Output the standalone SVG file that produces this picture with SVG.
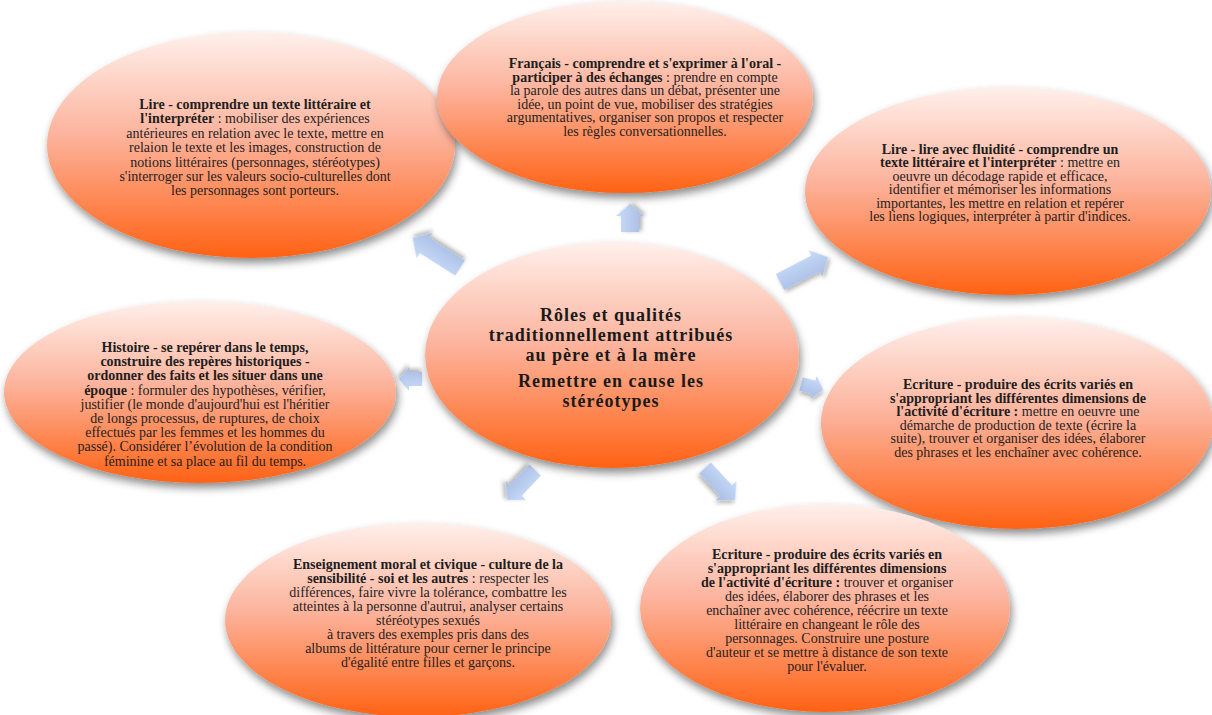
<svg xmlns="http://www.w3.org/2000/svg" width="1212" height="715" viewBox="0 0 1212 715">
<defs>
<linearGradient id="gOr" x1="0" y1="0" x2="0" y2="1">
<stop offset="0" stop-color="#fff0eb"/>
<stop offset="0.45" stop-color="#fcb49e"/>
<stop offset="1" stop-color="#ff6214"/>
</linearGradient>
<linearGradient id="gBl" x1="0" y1="0" x2="0" y2="1">
<stop offset="0" stop-color="#cadcfa"/>
<stop offset="1" stop-color="#a7bce4"/>
</linearGradient>
<filter id="sh" x="-20%" y="-20%" width="140%" height="150%">
<feDropShadow dx="2" dy="5" stdDeviation="4" flood-color="#000" flood-opacity="0.45"/>
</filter>
<filter id="sha" x="-40%" y="-40%" width="180%" height="180%">
<feDropShadow dx="1" dy="3" stdDeviation="2" flood-color="#000" flood-opacity="0.3"/>
</filter>
</defs>
<style>
.el{fill:url(#gOr);filter:url(#sh)}
.t{font-family:"Liberation Serif","Times New Roman",serif;font-size:14px;fill:#1e1e1e;text-anchor:middle}
.b{font-weight:bold}
.c{font-family:"Liberation Serif","Times New Roman",serif;font-size:18px;letter-spacing:1px;font-weight:bold;fill:#1a1a1a;text-anchor:middle}
.ar{fill:url(#gBl);filter:url(#sha)}
</style>
<rect width="1212" height="715" fill="#fff"/>

<g id="connectors">
<polygon class="ar" transform="translate(630,232) rotate(-90)" points="0,-9 16,-9 16,-14 28,0 16,14 16,9 0,9"/>
<polygon class="ar" transform="translate(460,268) rotate(-147.5)" points="0,-9 42,-9 42,-15 56,0 42,15 42,9 0,9"/>
<polygon class="ar" transform="translate(780,282) rotate(-27.5)" points="0,-9 40,-9 40,-15 54,0 40,15 40,9 0,9"/>
<polygon class="ar" transform="translate(422,379) rotate(180)" points="0,-7 13,-7 13,-12 23,0 13,12 13,7 0,7"/>
<polygon class="ar" transform="translate(801,384) rotate(15)" points="0,-7 13,-7 13,-12 23,0 13,12 13,7 0,7"/>
<polygon class="ar" transform="translate(535,470) rotate(133)" points="0,-8 28,-8 28,-14 41,0 28,14 28,8 0,8"/>
<polygon class="ar" transform="translate(705,468) rotate(47)" points="0,-8 31,-8 31,-14 44,0 31,14 31,8 0,8"/>
</g>

<g id="node-lire1">
<ellipse class="el" cx="251" cy="145" rx="204" ry="113"/>
<text class="t" x="255" y="109"><tspan class="b">Lire - comprendre un texte littéraire et</tspan></text>
<text class="t" x="255" y="123.4"><tspan class="b">l'interpréter</tspan>  :  mobiliser des expériences</text>
<text class="t" x="255" y="137.8">antérieures en relation avec le texte, mettre en</text>
<text class="t" x="255" y="152.2">relaion le texte et les images, construction de</text>
<text class="t" x="255" y="166.6">notions littéraires (personnages, stéréotypes)</text>
<text class="t" x="255" y="181">s'interroger sur les valeurs socio-culturelles dont</text>
<text class="t" x="255" y="195.4">les personnages sont porteurs.</text>
</g>

<g id="node-francais">
<ellipse class="el" cx="625" cy="97" rx="188" ry="96"/>
<text class="t" x="645" y="68"><tspan class="b">Français - comprendre et s'exprimer à l'oral -</tspan></text>
<text class="t" x="645" y="81.6"><tspan class="b">participer à des échanges</tspan> :  prendre en compte</text>
<text class="t" x="645" y="95.2">la parole des autres dans un débat, présenter une</text>
<text class="t" x="645" y="108.8">idée, un point de vue, mobiliser des stratégies</text>
<text class="t" x="645" y="122.4">argumentatives, organiser son propos et respecter</text>
<text class="t" x="645" y="136">les règles conversationnelles.</text>
</g>

<g id="node-lire2">
<ellipse class="el" cx="1008" cy="191" rx="203" ry="104"/>
<text class="t" x="1000" y="154"><tspan class="b">Lire - lire avec fluidité - comprendre un</tspan></text>
<text class="t" x="1000" y="167.4"><tspan class="b">texte littéraire et l'interpréter</tspan> : mettre en</text>
<text class="t" x="1000" y="180.8">oeuvre un décodage rapide et efficace,</text>
<text class="t" x="1000" y="194.2">identifier et mémoriser les informations</text>
<text class="t" x="1000" y="207.6">importantes, les mettre en relation et repérer</text>
<text class="t" x="1000" y="221">les liens logiques, interpréter à partir d'indices.</text>
</g>

<g id="node-histoire">
<ellipse class="el" cx="200" cy="392" rx="196" ry="91"/>
<text class="t" x="205" y="352"><tspan class="b">Histoire - se repérer dans le temps,</tspan></text>
<text class="t" x="205" y="366.2"><tspan class="b">construire des repères historiques -</tspan></text>
<text class="t" x="205" y="380.4"><tspan class="b">ordonner des faits et les situer dans une</tspan></text>
<text class="t" x="205" y="394.6"><tspan class="b">époque</tspan> : formuler des hypothèses, vérifier,</text>
<text class="t" x="205" y="408.8">justifier (le monde d'aujourd'hui est l'héritier</text>
<text class="t" x="205" y="423">de longs processus, de ruptures, de choix</text>
<text class="t" x="205" y="437.2">effectués par les femmes et les hommes du</text>
<text class="t" x="205" y="451.4">passé). Considérer l’évolution de la condition</text>
<text class="t" x="205" y="465.6">féminine et sa place au fil du temps.</text>
</g>

<g id="node-ecriture1">
<ellipse class="el" cx="1017" cy="423" rx="196" ry="106"/>
<text class="t" x="1018" y="389"><tspan class="b">Ecriture - produire des écrits variés en</tspan></text>
<text class="t" x="1018" y="402.6"><tspan class="b">s'appropriant les différentes dimensions de</tspan></text>
<text class="t" x="1018" y="416.2"><tspan class="b">l'activité d'écriture :</tspan> mettre en oeuvre une</text>
<text class="t" x="1018" y="429.8">démarche de production de texte  (écrire la</text>
<text class="t" x="1018" y="443.4">suite), trouver et organiser des idées, élaborer</text>
<text class="t" x="1018" y="457">des phrases et les enchaîner avec cohérence.</text>
</g>

<g id="node-emc">
<ellipse class="el" cx="418" cy="620" rx="193" ry="97"/>
<text class="t" x="428" y="569"><tspan class="b">Enseignement moral et civique - culture de la</tspan></text>
<text class="t" x="428" y="583"><tspan class="b">sensibilité - soi et les autres</tspan> : respecter les</text>
<text class="t" x="428" y="597">différences, faire vivre la tolérance, combattre les</text>
<text class="t" x="428" y="611">atteintes à la personne d'autrui, analyser certains</text>
<text class="t" x="428" y="625">stéréotypes sexués</text>
<text class="t" x="428" y="639">à travers des exemples pris dans des</text>
<text class="t" x="428" y="653">albums de littérature pour cerner le principe</text>
<text class="t" x="428" y="667">d'égalité entre filles et garçons.</text>
</g>

<g id="node-ecriture2">
<ellipse class="el" cx="825" cy="608" rx="185" ry="104"/>
<text class="t" x="827" y="559"><tspan class="b">Ecriture - produire des écrits variés en</tspan></text>
<text class="t" x="827" y="573"><tspan class="b">s'appropriant les différentes dimensions</tspan></text>
<text class="t" x="827" y="587"><tspan class="b">de l'activité d'écriture :</tspan> trouver et organiser</text>
<text class="t" x="827" y="601">des idées, élaborer des phrases et les</text>
<text class="t" x="827" y="615">enchaîner avec cohérence, réécrire un texte</text>
<text class="t" x="827" y="629">littéraire en changeant le rôle des</text>
<text class="t" x="827" y="643">personnages. Construire une posture</text>
<text class="t" x="827" y="657">d'auteur et se mettre à distance de son texte</text>
<text class="t" x="827" y="671">pour l'évaluer.</text>
</g>

<g id="node-center">
<ellipse class="el" cx="612" cy="355" rx="187" ry="113"/>
<text class="c" x="611" y="321">Rôles et qualités</text>
<text class="c" x="611" y="341">traditionnellement attribués</text>
<text class="c" x="611" y="361">au père et à la mère</text>
<text class="c" x="611" y="387">Remettre en cause les</text>
<text class="c" x="611" y="407">stéréotypes</text>
</g>
</svg>
